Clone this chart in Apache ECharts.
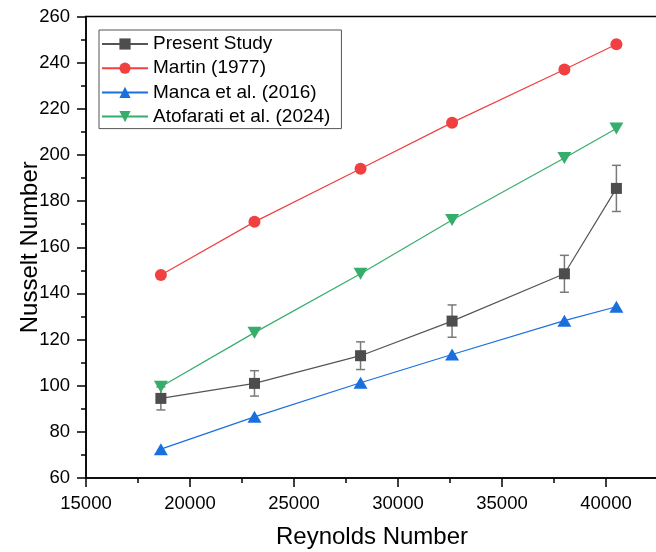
<!DOCTYPE html>
<html>
<head>
<meta charset="utf-8">
<script src="https://cdn.jsdelivr.net/npm/echarts@6/dist/echarts.min.js"></script>
<style>
html,body{margin:0;padding:0;background:#fff;}
#chart{width:656px;height:552px;}
</style>
</head>
<body>
<div id="chart"></div>
<script>
// ---- data ----
var reynolds = [18600, 23100, 28200, 32600, 38000, 40500];
var presentStudy = [94.5, 101, 113, 128, 148.5, 185.5];
var presentError = [5, 5.5, 6, 7, 8, 10];
var martin1977 = [148, 171, 194, 214, 237, 248];
var manca2016 = [72.5, 86.5, 101.3, 113.5, 128.2, 134.2];
var atofarati2024 = [99.5, 123, 148.5, 171.8, 198.7, 211.5];
var seriesNames = ['Present Study', 'Martin (1977)', 'Manca et al. (2016)', 'Atofarati et al. (2024)'];

var FONT = "'Liberation Sans', Arial, sans-serif";
function pairs(ys) { return reynolds.map(function (x, i) { return [x, ys[i]]; }); }

var chart = echarts.init(document.getElementById('chart'), null, {renderer: 'canvas'});
chart.setOption({
  animation: false,
  backgroundColor: '#fff',
  grid: {
    left: 86, top: 16.5, width: 572, height: 461.5,
    outerBoundsMode: 'none', containLabel: false,
    show: true, borderColor: '#000', borderWidth: 1.5, backgroundColor: 'transparent'
  },
  legend: {
    data: seriesNames,
    orient: 'vertical',
    left: 99, top: 30,
    padding: [4, 11, 2, 2],
    itemWidth: 46, itemHeight: 14, itemGap: 4.2,
    borderColor: '#555', borderWidth: 1,
    textStyle: {fontFamily: FONT, fontSize: 19, color: '#000', lineHeight: 20, padding: [0, 0, 0, 0]}
  },
  xAxis: {
    type: 'value', min: 15000, max: 42500, interval: 5000,
    name: 'Reynolds Number', nameLocation: 'middle', nameGap: 47, nameMoveOverlap: false,
    nameTextStyle: {fontFamily: FONT, fontSize: 24, color: '#000'},
    axisLine: {show: true, onZero: false, lineStyle: {color: '#000', width: 1.5}},
    axisTick: {show: true, inside: false, length: 9, lineStyle: {color: '#000', width: 1.5}},
    minorTick: {show: true, splitNumber: 2, length: 5, lineStyle: {color: '#000', width: 1.5}},
    axisLabel: {fontFamily: FONT, fontSize: 18.5, color: '#000', margin: 16, showMaxLabel: false,
      formatter: function (v) { return String(v); }},
    splitLine: {show: false}
  },
  yAxis: {
    type: 'value', min: 60, max: 260, interval: 20,
    name: 'Nusselt Number', nameLocation: 'middle', nameGap: 44, nameRotate: 90, nameMoveOverlap: false,
    nameTextStyle: {fontFamily: FONT, fontSize: 24, color: '#000'},
    axisLine: {show: true, onZero: false, lineStyle: {color: '#000', width: 1.5}},
    axisTick: {show: true, inside: false, length: 9, lineStyle: {color: '#000', width: 1.5}},
    minorTick: {show: true, splitNumber: 2, length: 5, lineStyle: {color: '#000', width: 1.5}},
    axisLabel: {fontFamily: FONT, fontSize: 18.5, color: '#000', margin: 16},
    splitLine: {show: false}
  },
  series: [
    {
      name: 'errorbars', type: 'custom', z: 1,
      data: reynolds.map(function (x, i) { return [x, presentStudy[i], presentError[i]]; }),
      encode: {x: 0, y: 1},
      renderItem: function (params, api) {
        var x = api.value(0), y = api.value(1), e = api.value(2);
        var t = api.coord([x, y + e]), b = api.coord([x, y - e]);
        var w = 4.5, st = {stroke: '#7a7a7a', lineWidth: 1.5};
        return {type: 'group', children: [
          {type: 'line', shape: {x1: t[0], y1: t[1], x2: b[0], y2: b[1]}, style: st},
          {type: 'line', shape: {x1: t[0] - w, y1: t[1], x2: t[0] + w, y2: t[1]}, style: st},
          {type: 'line', shape: {x1: b[0] - w, y1: b[1], x2: b[0] + w, y2: b[1]}, style: st}
        ]};
      }
    },
    {
      name: seriesNames[0], type: 'line', z: 5, data: pairs(presentStudy),
      symbol: 'rect', symbolSize: 11,
      lineStyle: {color: '#555555', width: 1.2},
      itemStyle: {color: '#4d4d4d'}
    },
    {
      name: seriesNames[1], type: 'line', z: 4, data: pairs(martin1977),
      symbol: 'circle', symbolSize: 12,
      lineStyle: {color: '#F14040', width: 1.2},
      itemStyle: {color: '#F14040'}
    },
    {
      name: seriesNames[2], type: 'line', z: 4, data: pairs(manca2016),
      symbol: 'triangle', symbolSize: [14, 12],
      lineStyle: {color: '#1A6FDF', width: 1.2},
      itemStyle: {color: '#1A6FDF'}
    },
    {
      name: seriesNames[3], type: 'line', z: 4, data: pairs(atofarati2024),
      symbol: 'triangle', symbolSize: [14, 12], symbolRotate: 180,
      lineStyle: {color: '#37AD6B', width: 1.2},
      itemStyle: {color: '#37AD6B'}
    }
  ]
});
</script>
</body>
</html>
